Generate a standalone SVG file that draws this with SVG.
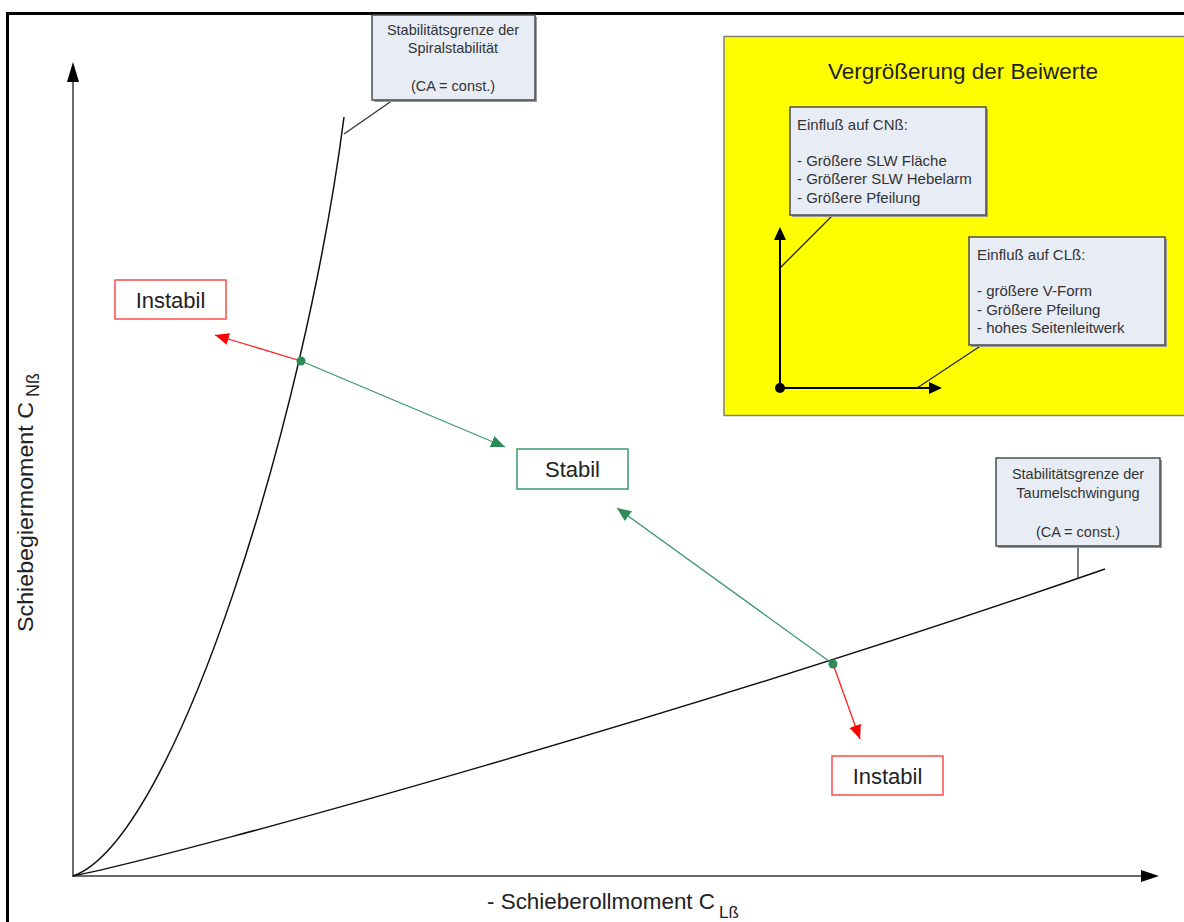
<svg xmlns="http://www.w3.org/2000/svg" width="1184" height="922" viewBox="0 0 1184 922">
<style>
text{font-family:"Liberation Sans",Arial,sans-serif;fill:#222}
.note{fill:#e8ecf5;stroke:#4d4d4d;stroke-width:1.5}
.shadow{fill:#9a9a9a}
.nt{font-size:14.5px;fill:#333}
.bt{font-size:15px;fill:#333}
.curve{fill:none;stroke:#111;stroke-width:1.5}
.leader{fill:none;stroke:#333;stroke-width:1.3}
.axis{stroke:#6a6a6a;stroke-width:2;fill:none}
.red{stroke:#ff2020;stroke-width:1.3;fill:none}
.green{stroke:#3a9a6a;stroke-width:1.3;fill:none}
.lbl{font-size:22px}
</style>
<defs>
<marker id="ahRed" markerUnits="userSpaceOnUse" markerWidth="14" markerHeight="12" refX="14" refY="6" orient="auto"><path d="M0,0 L14,6 L0,12 z" fill="#ff0000"/></marker>
<marker id="ahGreen" markerUnits="userSpaceOnUse" markerWidth="14" markerHeight="12" refX="14" refY="6" orient="auto"><path d="M0,0 L14,6 L0,12 z" fill="#2e8b57"/></marker>
</defs>
<rect x="0" y="0" width="1184" height="922" fill="#fff"/>
<rect x="7.5" y="13.5" width="1200" height="940" fill="none" stroke="#000" stroke-width="3"/>

<g id="axes">
<line class="axis" x1="73" y1="876" x2="73" y2="80"/>
<polygon points="73,62 67,82 79,82" fill="#000"/>
<line class="axis" x1="72" y1="876" x2="1142" y2="876"/>
<polygon points="1159,876 1141,870 1141,882" fill="#000"/>
<text x="487" y="909" font-size="22" textLength="228" lengthAdjust="spacingAndGlyphs">- Schieberollmoment C</text>
<text x="719" y="918" font-size="17">Lß</text>
<g transform="translate(33,632) rotate(-90)">
<text x="0" y="0" font-size="22" textLength="230" lengthAdjust="spacingAndGlyphs">Schiebegiermoment C</text>
<text x="235" y="6" font-size="18">Nß</text>
</g>
</g>

<g id="curve-spiral">
<path class="curve" d="M73,876 C175,840 305,420 344,117"/>
</g>
<g id="curve-taumel">
<path class="curve" d="M73,876 C200,850 700,710 1105,569"/>
</g>

<g id="connectors">
<line class="leader" x1="393" y1="100" x2="344" y2="134"/>
<line class="leader" x1="1078" y1="546" x2="1078" y2="578"/>
<line class="red" x1="301" y1="361" x2="215" y2="335" marker-end="url(#ahRed)"/>
<line class="green" x1="301" y1="361" x2="505" y2="447" marker-end="url(#ahGreen)"/>
<line class="green" x1="833" y1="664" x2="617" y2="508" marker-end="url(#ahGreen)"/>
<line class="red" x1="833" y1="664" x2="860" y2="739" marker-end="url(#ahRed)"/>
<circle cx="301" cy="361" r="4.5" fill="#2e8b57"/>
<circle cx="833" cy="664" r="4.5" fill="#2e8b57"/>
</g>

<g id="note-spiral">
<rect class="shadow" x="374" y="17" width="163" height="85"/>
<rect class="note" x="372" y="15" width="163" height="85"/>
<text class="nt" x="453" y="35" text-anchor="middle">Stabilitätsgrenze der</text>
<text class="nt" x="453" y="53" text-anchor="middle">Spiralstabilität</text>
<text class="nt" x="453" y="91" text-anchor="middle">(CA = const.)</text>
</g>

<g id="note-taumel">
<rect class="shadow" x="998" y="460" width="164" height="88"/>
<rect class="note" x="996" y="458" width="164" height="88"/>
<text class="nt" x="1078" y="479" text-anchor="middle">Stabilitätsgrenze der</text>
<text class="nt" x="1078" y="498" text-anchor="middle">Taumelschwingung</text>
<text class="nt" x="1078" y="537" text-anchor="middle">(CA = const.)</text>
</g>

<g id="instabil-top">
<rect x="115" y="280" width="111" height="39" fill="#fff" stroke="#ff4a4a" stroke-width="1.5"/>
<text class="lbl" x="170.5" y="307.5" text-anchor="middle">Instabil</text>
</g>
<g id="stabil">
<rect x="517" y="449" width="111" height="40" fill="#fff" stroke="#3a9a6a" stroke-width="1.5"/>
<text class="lbl" x="572.5" y="476.5" text-anchor="middle">Stabil</text>
</g>
<g id="instabil-bottom">
<rect x="832" y="756" width="111" height="39" fill="#fff" stroke="#ff4a4a" stroke-width="1.5"/>
<text class="lbl" x="887.5" y="783.5" text-anchor="middle">Instabil</text>
</g>

<g id="vergroesserung">
<rect x="724" y="36.5" width="480" height="379" fill="#ffff00" stroke="#808080" stroke-width="1.5"/>
<text x="963" y="79" font-size="22.5" text-anchor="middle">Vergrößerung der Beiwerte</text>
<line x1="833" y1="215" x2="780" y2="268" stroke="#222" stroke-width="1.3"/>
<line x1="982" y1="345" x2="917" y2="388" stroke="#222" stroke-width="1.3"/>
<line x1="780" y1="388" x2="780" y2="238" stroke="#000" stroke-width="2"/>
<polygon points="780,227 774,240 786,240" fill="#000"/>
<line x1="780" y1="388" x2="931" y2="388" stroke="#000" stroke-width="2"/>
<polygon points="942,388 929,382 929,394" fill="#000"/>
<circle cx="780" cy="388" r="5" fill="#000"/>
</g>

<g id="note-cn">
<rect class="shadow" x="792" y="109" width="196" height="108"/>
<rect class="note" x="790" y="107" width="196" height="108"/>
<text class="bt" x="797" y="130">Einfluß auf CNß:</text>
<text class="bt" x="797" y="166">- Größere SLW Fläche</text>
<text class="bt" x="797" y="184">- Größerer SLW Hebelarm</text>
<text class="bt" x="797" y="203">- Größere Pfeilung</text>
</g>

<g id="note-cl">
<rect class="shadow" x="971" y="239" width="196" height="108"/>
<rect class="note" x="969" y="237" width="196" height="108"/>
<text class="bt" x="977" y="260">Einfluß auf CLß:</text>
<text class="bt" x="977" y="296">- größere V-Form</text>
<text class="bt" x="977" y="315">- Größere Pfeilung</text>
<text class="bt" x="977" y="333">- hohes Seitenleitwerk</text>
</g>
</svg>
